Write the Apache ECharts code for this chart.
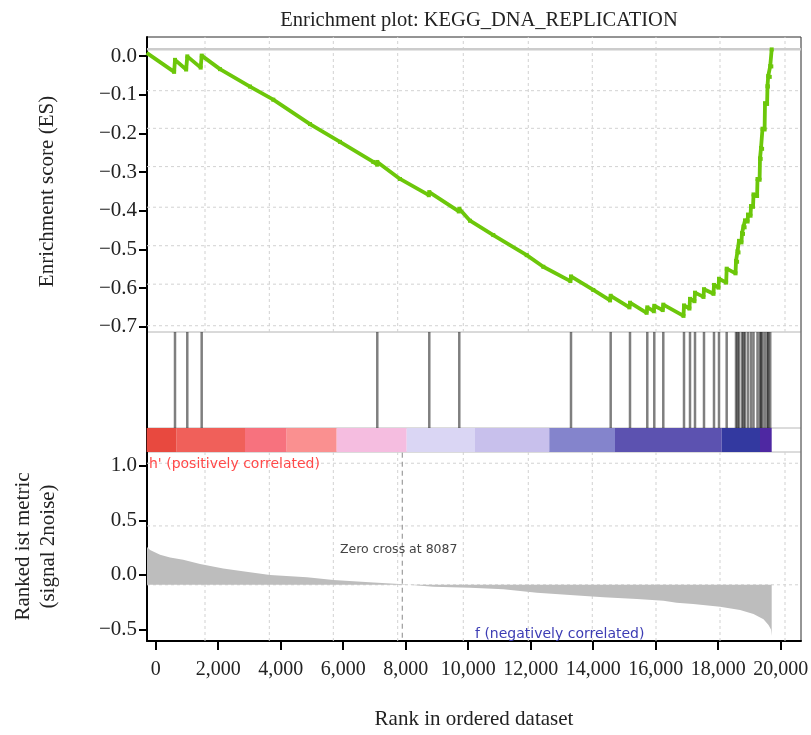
<!DOCTYPE html>
<html><head><meta charset="utf-8">
<script src="https://cdn.jsdelivr.net/npm/echarts@6/dist/echarts.min.js"></script>
<style>html,body{margin:0;padding:0;background:#fff}#c{width:811px;height:735px}</style>
</head><body><div id="c"></div>
<script>
// ---------- data ----------
const xTicks = [0,2000,4000,6000,8000,10000,12000,14000,16000,18000,20000];
const esTicks = [-0.7,-0.6,-0.5,-0.4,-0.3,-0.2,-0.1,0];
const metricTicks = [-0.5,0,0.5,1.0];

const esRank = [-288,590,618,975,1011,1440,1472,2058,3018,3763,4938,5898,6963,7091,7091,7818,8740,8755,9700,9715,10058,10803,11872,12403,13270,13290,14003,14540,14560,15160,15178,15710,15731,15940,15955,16225,16243,16890,16906,17080,17098,17240,17258,17530,17546,17850,17866,18010,18026,18255,18272,18555,18570,18605,18618,18650,18666,18745,18762,18795,18810,18845,18858,18940,18954,19035,19050,19115,19130,19245,19258,19325,19338,19360,19370,19405,19418,19485,19498,19565,19578,19590,19600,19650,19665,19700,19712];
const esValue = [0.008,-0.041,-0.010,-0.035,-0.001,-0.030,0.001,-0.034,-0.079,-0.113,-0.176,-0.222,-0.274,-0.281,-0.274,-0.318,-0.360,-0.352,-0.402,-0.395,-0.426,-0.463,-0.515,-0.545,-0.582,-0.570,-0.605,-0.632,-0.620,-0.650,-0.638,-0.664,-0.650,-0.660,-0.646,-0.657,-0.643,-0.672,-0.645,-0.653,-0.628,-0.634,-0.612,-0.623,-0.603,-0.615,-0.592,-0.599,-0.576,-0.586,-0.550,-0.562,-0.530,-0.532,-0.505,-0.508,-0.478,-0.482,-0.458,-0.460,-0.441,-0.443,-0.425,-0.428,-0.410,-0.413,-0.388,-0.390,-0.358,-0.362,-0.318,-0.320,-0.265,-0.266,-0.238,-0.240,-0.188,-0.190,-0.122,-0.124,-0.078,-0.079,-0.052,-0.054,-0.026,-0.027,0.017];

const hitRanks = [618,1011,1472,7091,8755,9715,13290,14560,15178,15731,15955,16243,16906,17098,17258,17546,17866,18026,18272,18570,18618,18666,18762,18810,18858,18954,19050,19130,19258,19338,19370,19418,19498,19578,19600,19665];

const barEdges = [-288,672,2858,4192,5792,8032,10218,12595,14698,18112,19338,19712];
const barColors = ['#e8493f','#f0605a','#f7727e','#fa9090','#f5bde0','#dad6f4','#c8c0ec','#8484cc','#5c52b0','#3339a0','#4e28a2'];

const metricRank = [-288,-180,140,460,880,1420,2160,2900,3660,4840,5690,6970,7930,8090,8890,10060,11130,12200,13260,14330,15400,16250,16670,17200,18060,18700,19130,19450,19610,19690,19712];
const metricValue = [0.26,0.23,0.185,0.16,0.14,0.10,0.06,0.03,0.0,-0.02,-0.045,-0.07,-0.085,-0.09,-0.107,-0.116,-0.131,-0.162,-0.183,-0.205,-0.220,-0.236,-0.254,-0.266,-0.291,-0.321,-0.358,-0.407,-0.459,-0.50,-0.56];
const metricBaseline = -0.09;
const zeroCrossRank = 7890;

const vGridRanks = [1578,3636,5684,7744,9843,11923,13971,16010,18058,20138];
const esZeroLine = 0.0173;
const esGridValues = [-0.0897,-0.187,-0.286,-0.391,-0.4906,-0.590,-0.6975];
const metricGridValues = [1.025,0.45,-0.09];

// ---------- layout ----------
const X_MIN = -278, X_MAX = 20650;
const ES_MIN = -0.7137, ES_MAX = 0.0491;
const M_MIN = -0.6055, M_MAX = 1.128;
const L = 147, R = 10;
const SERIF = 'Liberation Serif';
const fmt1 = v => (Math.abs(v) < 1e-9 ? '0.0' : v.toFixed(1).replace('-', '\u2212'));

const chart = echarts.init(document.getElementById('c'), null, {renderer:'canvas'});

function hiddenX(gi){return {type:'value',gridIndex:gi,min:X_MIN,max:X_MAX,show:false};}
function vLineSeries(xi, yi, ranks, y0, y1, style, z){
  return {type:'custom', xAxisIndex:xi, yAxisIndex:yi, z:z||1, silent:true,
    data: ranks.map(r=>[r, y0]),
    renderItem:(p,api)=>{const a=api.coord([api.value(0),y0]);const b=api.coord([api.value(0),y1]);
      return {type:'line',shape:{x1:a[0],y1:a[1],x2:b[0],y2:b[1]},style:style};}};
}
function hLineSeries(xi, yi, vals, style, z){
  return {type:'custom', xAxisIndex:xi, yAxisIndex:yi, z:z||1, silent:true,
    data: vals.map(v=>[X_MIN, v]),
    renderItem:(p,api)=>{const a=api.coord([X_MIN,api.value(1)]);const b=api.coord([X_MAX,api.value(1)]);
      return {type:'line',shape:{x1:a[0],y1:a[1],x2:b[0],y2:b[1]},style:style};}};
}
const dashStyle = {stroke:'#d2d2d2', lineWidth:1, lineDash:[3,3]};
function gridBox(top,height,color){
  return {left:L,right:R,top:top,height:height,show:true,borderColor:color,borderWidth:1,
    containLabel:false,outerBoundsMode:'none'};
}

const option = {
  animation:false,
  backgroundColor:'#fff',
  title:{text:'Enrichment plot: KEGG_DNA_REPLICATION', left:474, top:5, textAlign:'center',
    textStyle:{fontFamily:SERIF, fontSize:20.5, fontWeight:'normal', color:'#222'}},
  grid:[
    gridBox(37,295,'#c8c8c8'),
    gridBox(332,96,'#d0d0d0'),
    gridBox(428,24,'#d0d0d0'),
    gridBox(452,189,'#d0d0d0'),
    gridBox(37,604,'#444')
  ],
  xAxis:[
    hiddenX(0), hiddenX(1), hiddenX(2),
    {type:'value',gridIndex:3,min:X_MIN,max:X_MAX,
      name:'Rank in ordered dataset',nameLocation:'middle',nameGap:68,
      nameTextStyle:{fontFamily:SERIF,fontSize:21,color:'#222'},
      axisLine:{show:true,onZero:false,lineStyle:{color:'#000',width:2}},
      axisTick:{show:true,customValues:xTicks,length:9,lineStyle:{color:'#000',width:2}},
      axisLabel:{customValues:xTicks,margin:19,fontFamily:SERIF,fontSize:20,color:'#222',
        formatter:v=>v.toLocaleString('en-US')},
      splitLine:{show:false}},
    hiddenX(4)
  ],
  yAxis:[
    {type:'value',gridIndex:0,min:ES_MIN,max:ES_MAX,
      name:'Enrichment score (ES)',nameLocation:'middle',nameGap:89,
      nameTextStyle:{fontFamily:SERIF,fontSize:21,color:'#222',padding:[0,14,0,0]},
      axisLine:{show:true,onZero:false,lineStyle:{color:'#000',width:2}},
      axisTick:{show:true,customValues:esTicks,length:8,lineStyle:{color:'#000',width:2}},
      axisLabel:{customValues:esTicks,margin:10,fontFamily:SERIF,fontSize:21,color:'#222',formatter:fmt1},
      splitLine:{show:false}},
    {type:'value',gridIndex:1,min:0,max:1,axisLine:{show:true,onZero:false,lineStyle:{color:'#000',width:2}},
      axisTick:{show:false},axisLabel:{show:false},splitLine:{show:false}},
    {type:'value',gridIndex:2,min:0,max:1,axisLine:{show:true,onZero:false,lineStyle:{color:'#000',width:2}},
      axisTick:{show:false},axisLabel:{show:false},splitLine:{show:false}},
    {type:'value',gridIndex:3,min:M_MIN,max:M_MAX,
      name:'Ranked ist metric\n(signal 2noise)',nameLocation:'middle',nameGap:86,
      nameTextStyle:{fontFamily:SERIF,fontSize:21,color:'#222',lineHeight:25},
      axisLine:{show:true,onZero:false,lineStyle:{color:'#000',width:2}},
      axisTick:{show:true,customValues:metricTicks,length:8,lineStyle:{color:'#000',width:2}},
      axisLabel:{customValues:metricTicks,margin:10,fontFamily:SERIF,fontSize:21,color:'#222',formatter:fmt1},
      splitLine:{show:false}},
    {type:'value',gridIndex:4,min:0,max:1,show:false}
  ],
  series:[
    vLineSeries(0,0,vGridRanks,ES_MIN,ES_MAX,dashStyle),
    hLineSeries(0,0,esGridValues,dashStyle),
    hLineSeries(0,0,[esZeroLine],{stroke:'#cccccc',lineWidth:2.5}),
    {type:'line',xAxisIndex:0,yAxisIndex:0,z:10,
      data:esRank.map((r,i)=>[r,esValue[i]]),
      color:'#6cc70a',lineStyle:{width:3.8,color:'#6cc70a'},
      symbol:'rect',symbolSize:4,showSymbol:true,itemStyle:{color:'#6cc70a'}},
    {type:'custom',xAxisIndex:1,yAxisIndex:1,z:5,silent:true,
      data:hitRanks.map(r=>[r,0]),
      renderItem:(p,api)=>{const a=api.coord([api.value(0),0]);const b=api.coord([api.value(0),1]);
        return {type:'line',shape:{x1:a[0],y1:a[1],x2:b[0],y2:b[1]},style:{stroke:'rgba(0,0,0,0.5)',lineWidth:2.5}};}},
    {type:'custom',xAxisIndex:2,yAxisIndex:2,z:5,silent:true,
      data:barColors.map((c,i)=>[barEdges[i],barEdges[i+1],i]),
      renderItem:(p,api)=>{const a=api.coord([api.value(0),1]);const b=api.coord([api.value(1),0]);
        return {type:'rect',shape:{x:a[0],y:a[1],width:b[0]-a[0],height:b[1]-a[1]},
          style:{fill:barColors[api.value(2)]}};}},
    vLineSeries(3,3,vGridRanks,M_MIN,M_MAX,dashStyle),
    hLineSeries(3,3,metricGridValues,dashStyle),
    {type:'line',xAxisIndex:3,yAxisIndex:3,z:4,
      data:metricRank.map((r,i)=>[r,metricValue[i]]),
      symbol:'none',lineStyle:{width:0},
      areaStyle:{color:'#bdbdbd',opacity:1,origin:metricBaseline}},
    vLineSeries(3,3,[zeroCrossRank],M_MIN+0.03,M_MAX,{stroke:'#888',lineWidth:1,lineDash:[5,4]},6)
  ],
  graphic:[
    {type:'text',left:149,top:457,z:20,style:{text:"h' (positively correlated)",fill:'#ff4a4a',font:'14px "DejaVu Sans"'}},
    {type:'text',left:475,top:627,z:20,style:{text:'f (negatively correlated)',fill:'#3c3cb4',font:'14px "DejaVu Sans"'}},
    {type:'text',left:340,top:543,z:20,style:{text:'Zero cross at 8087',fill:'#444',font:'12.5px "DejaVu Sans"'}}
  ]
};
chart.setOption(option);
</script>
</body></html>
